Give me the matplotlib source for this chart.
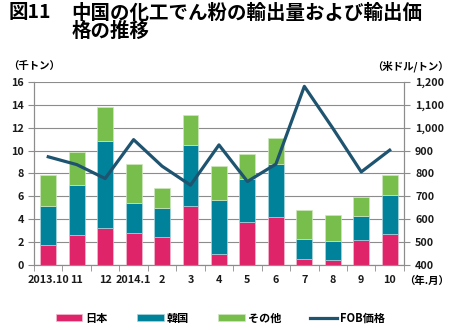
import numpy as np
import matplotlib
matplotlib.use("Agg")
import matplotlib.pyplot as plt

plt.rcParams['font.family'] = ['Noto Sans CJK JP', 'DejaVu Sans']

# データ
months = ["2013.10", "11", "12", "2014.1", "2", "3", "4", "5", "6", "7", "8", "9", "10"]
japan = [1.75, 2.62, 3.23, 2.76, 2.41, 5.12, 0.93, 3.75, 4.16, 0.49, 0.47, 2.18, 2.68]
korea_top = [5.18, 6.98, 10.85, 5.41, 4.95, 10.47, 5.67, 7.56, 8.84, 2.24, 2.09, 4.28, 6.11]
total = [7.91, 9.86, 13.79, 8.81, 6.72, 13.15, 8.64, 9.69, 11.14, 4.80, 4.33, 5.91, 7.91]
fob_price = [873, 839, 778, 948, 832, 749, 925, 765, 841, 1181, 998, 807, 902]

korea = [k - j for k, j in zip(korea_top, japan)]
other = [t - k for t, k in zip(total, korea_top)]

c_japan = "#E0246A"
c_korea = "#00829B"
c_other = "#78BE4C"
c_line = "#1E5470"

fig = plt.figure(figsize=(4.5, 3.3), dpi=100)
ax = fig.add_axes([0.0756, 0.197, 0.822, 0.5545])
x = np.arange(len(months))
w = 0.56

b1 = ax.bar(x, japan, w, color=c_japan, edgecolor="#F3B9CF", linewidth=0.5, label="日本", zorder=3)
b2 = ax.bar(x, korea, w, bottom=japan, color=c_korea, edgecolor="#A9D5DD", linewidth=0.5, label="韓国", zorder=3)
b3 = ax.bar(x, other, w, bottom=korea_top, color=c_other, edgecolor="#CFE8C0", linewidth=0.5, label="その他", zorder=3)

ax.set_xlim(-0.5, len(months) - 0.5)
ax.set_ylim(0, 16)
ax.set_yticks(range(0, 17, 2))
ax.yaxis.grid(True, color="#8C8C8C", linewidth=0.8, zorder=0)
ax.set_xticks(x)
ax.set_xticklabels(months)
ax.set_xticks(np.arange(-0.5, len(months), 1), minor=True)
ax.tick_params(axis="x", which="major", length=0, pad=7)
ax.tick_params(axis="x", which="minor", length=4, color="#8C8C8C")
ax.tick_params(axis="y", length=4, color="#8C8C8C", pad=3)

ax2 = ax.twinx()
l1, = ax2.plot(x, fob_price, color=c_line, linewidth=2.3, label="FOB価格", zorder=4)
ax2.set_ylim(400, 1200)
ax2.set_yticks(range(400, 1201, 100))
ax2.set_yticklabels([f"{v:,}" for v in range(400, 1201, 100)])
ax2.tick_params(axis="y", length=4, color="#8C8C8C", pad=4)

for a in (ax, ax2):
    a.spines["top"].set_visible(False)
    a.spines["left"].set_color("#8C8C8C")
    a.spines["right"].set_color("#8C8C8C")
    a.spines["bottom"].set_color("#8C8C8C")
    for lab in a.get_xticklabels() + a.get_yticklabels():
        lab.set_fontsize(7.8)
        lab.set_fontweight("bold")
        lab.set_color("#1A1A1A")

fig.text(0.018, 0.99, "図11", fontsize=14, fontweight="bold", va="top", ha="left")
fig.text(0.158, 0.99, "中国の化工でん粉の輸出量および輸出価\n格の推移",
         fontsize=14, fontweight="bold", va="top", ha="left", linespacing=0.98)
fig.text(0.018, 0.80, "（千トン）", fontsize=7.5, fontweight="bold", va="center", ha="left")
fig.text(0.998, 0.80, "（米ドル/トン）", fontsize=7.5, fontweight="bold", va="center", ha="right")
fig.text(0.998, 0.148, "（年.月）", fontsize=7.5, fontweight="bold", va="center", ha="right")

leg = fig.legend([b1, b2, b3, l1], ["日本", "韓国", "その他", "FOB価格"], ncol=4,
                 loc="center", bbox_to_anchor=(0.49, 0.036), frameon=False,
                 prop={"size": 8, "weight": "bold"}, handlelength=2.4, handleheight=0.6,
                 columnspacing=2.6, handletextpad=0.3)

fig.savefig("out.png", dpi=100)
